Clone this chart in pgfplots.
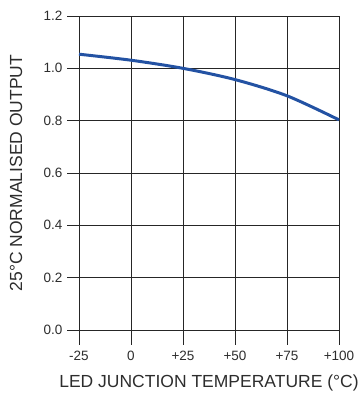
\documentclass[border=0pt]{standalone}
\usepackage{pgfplots}
\pgfplotsset{compat=1.18}
\usepackage{fontspec}
\setmainfont{Liberation Sans}
\definecolor{curveblue}{RGB}{35,82,163}
\definecolor{txt}{RGB}{45,45,45}
\begin{document}
\begin{tikzpicture}[x=1pt,y=1pt]
\path[use as bounding box] (0,0) rectangle (358,393);
\begin{axis}[
  at={(79pt,63pt)}, anchor=south west,
  scale only axis, width=260pt, height=314pt,
  xmin=-25, xmax=100, ymin=0, ymax=1.2,
  xtick={-25,0,25,50,75,100},
  xticklabels={-25,0,+25,+50,+75,+100},
  ytick={0,0.2,0.4,0.6,0.8,1.0,1.2},
  yticklabels={0.0,0.2,0.4,0.6,0.8,1.0,1.2},
  axis line style={draw=none},
  grid=major,
  major grid style={black!85, line width=0.8pt},
  major tick length=0pt,
  tick style={draw=none},
  xticklabel style={font=\fontsize{13.5}{13.5}\selectfont, text=txt, anchor=north, yshift=-17.5pt},
  yticklabel style={font=\fontsize{13.5}{13.5}\selectfont, text=txt, anchor=east, xshift=-13pt},
  xlabel={LED JUNCTION TEMPERATURE (°C)},
  ylabel={25°C NORMALISED OUTPUT},
  xlabel style={font=\fontsize{17.5}{17.5}\selectfont, text=txt, at={(axis description cs:0.5,-0.1688)}, anchor=center},
  ylabel style={font=\fontsize{17.5}{17.5}\selectfont, text=txt, at={(axis description cs:-0.2423,0.5)}, anchor=center},
  clip=false,
]
\addplot[curveblue, line width=3pt, smooth, tension=0.5] coordinates {
  (-25,1.054) (0,1.031) (25,1.0) (50,0.957) (75,0.895) (100,0.803)
};
\foreach \xx in {-25,0,25,50,75,100} {
  \edef\tmp{\noexpand\draw[black!85, line width=0.8pt] (axis cs:\xx,0) -- ++(0pt,-15pt);}
  \tmp
}
\foreach \yy in {0,0.2,0.4,0.6,0.8,1.0,1.2} {
  \edef\tmp{\noexpand\draw[black!85, line width=0.8pt] (axis cs:-25,\yy) -- ++(-12pt,0pt);}
  \tmp
}
\end{axis}
\end{tikzpicture}
\end{document}
